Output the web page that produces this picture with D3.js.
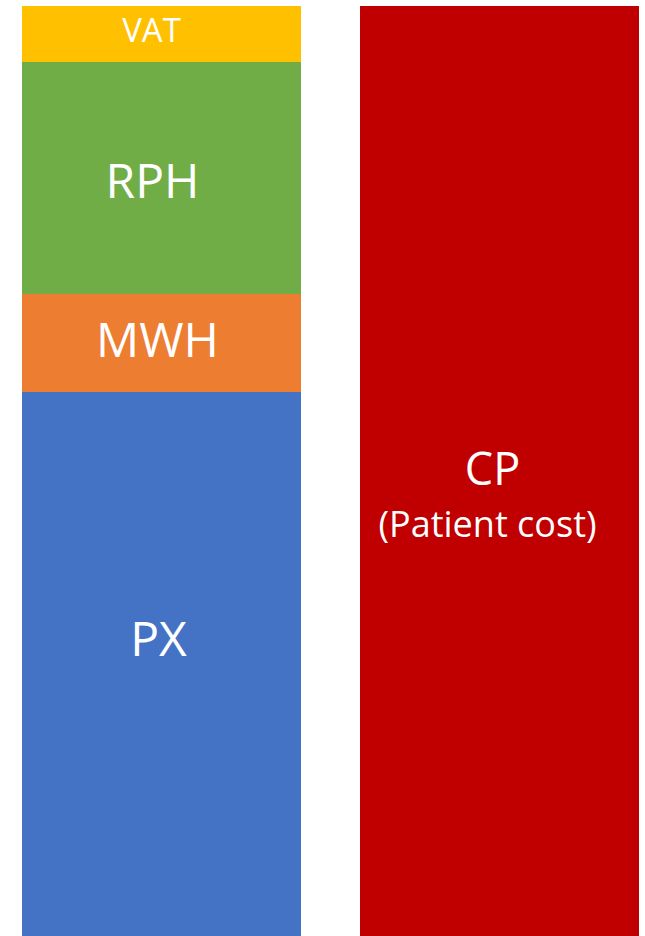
<!DOCTYPE html>
<html>
<head>
<meta charset="utf-8">
<script src="https://cdn.jsdelivr.net/npm/d3@7"></script>
<style>
  html, body { margin: 0; padding: 0; background: #fff; }
  svg { display: block; }
  text { font-family: "Open Sans", sans-serif; fill: #fff; }
</style>
</head>
<body>
<svg id="chart" width="645" height="936"></svg>
<script>
// Price build-up: the stacked components (bottom to top) against the patient cost
const columns = ["components", "CP"];
const componentKeys = ["PX", "MWH", "RPH", "VAT"];
const componentValues = [544, 98, 232, 56];
const componentColors = ["#4472C4", "#ED7D31", "#70AD47", "#FFC000"];
const patientCost = 930;
const patientLabel = "CP";
const patientSubLabel = "(Patient cost)";
const patientColor = "#C00000";

// label placement tweaks inside each segment (pixels)
const labelStyle = {
  PX:  { size: 48, dx: -3,  dy: -25 },
  MWH: { size: 48, dx: -4,  dy: -3 },
  RPH: { size: 48, dx: -9,  dy: 3 },
  VAT: { size: 33, dx: -10, dy: -4 }
};

const svg = d3.select("#chart");

const x = d3.scaleBand()
  .domain(columns)
  .range([22, 639])
  .paddingInner(59 / 338)
  .paddingOuter(0);

const y = d3.scaleLinear()
  .domain([0, d3.sum(componentValues)])
  .range([936, 6]);

// stacked segments
let acc = 0;
const segments = componentKeys.map((k, i) => {
  const s = { key: k, y0: acc, y1: acc + componentValues[i], color: componentColors[i] };
  acc += componentValues[i];
  return s;
});

const gStack = svg.append("g");
gStack.selectAll("rect")
  .data(segments)
  .join("rect")
  .attr("x", x("components"))
  .attr("width", x.bandwidth())
  .attr("y", d => y(d.y1))
  .attr("height", d => y(d.y0) - y(d.y1))
  .attr("fill", d => d.color);

gStack.selectAll("text")
  .data(segments)
  .join("text")
  .attr("x", d => x("components") + x.bandwidth() / 2 + labelStyle[d.key].dx)
  .attr("y", d => (y(d.y0) + y(d.y1)) / 2 + labelStyle[d.key].dy)
  .attr("dy", "0.36em")
  .attr("text-anchor", "middle")
  .attr("font-size", d => labelStyle[d.key].size)
  .text(d => d.key);

// patient cost bar
const gCP = svg.append("g");
gCP.append("rect")
  .attr("x", x("CP"))
  .attr("width", x.bandwidth())
  .attr("y", y(patientCost))
  .attr("height", y(0) - y(patientCost))
  .attr("fill", patientColor);

const cx = x("CP") + x.bandwidth() / 2 - 7;
gCP.append("text")
  .attr("x", cx)
  .attr("y", 485)
  .attr("text-anchor", "middle")
  .attr("font-size", 45)
  .text(patientLabel);

gCP.append("text")
  .attr("x", cx - 5)
  .attr("y", 537)
  .attr("text-anchor", "middle")
  .attr("font-size", 36)
  .text(patientSubLabel);
</script>
</body>
</html>
